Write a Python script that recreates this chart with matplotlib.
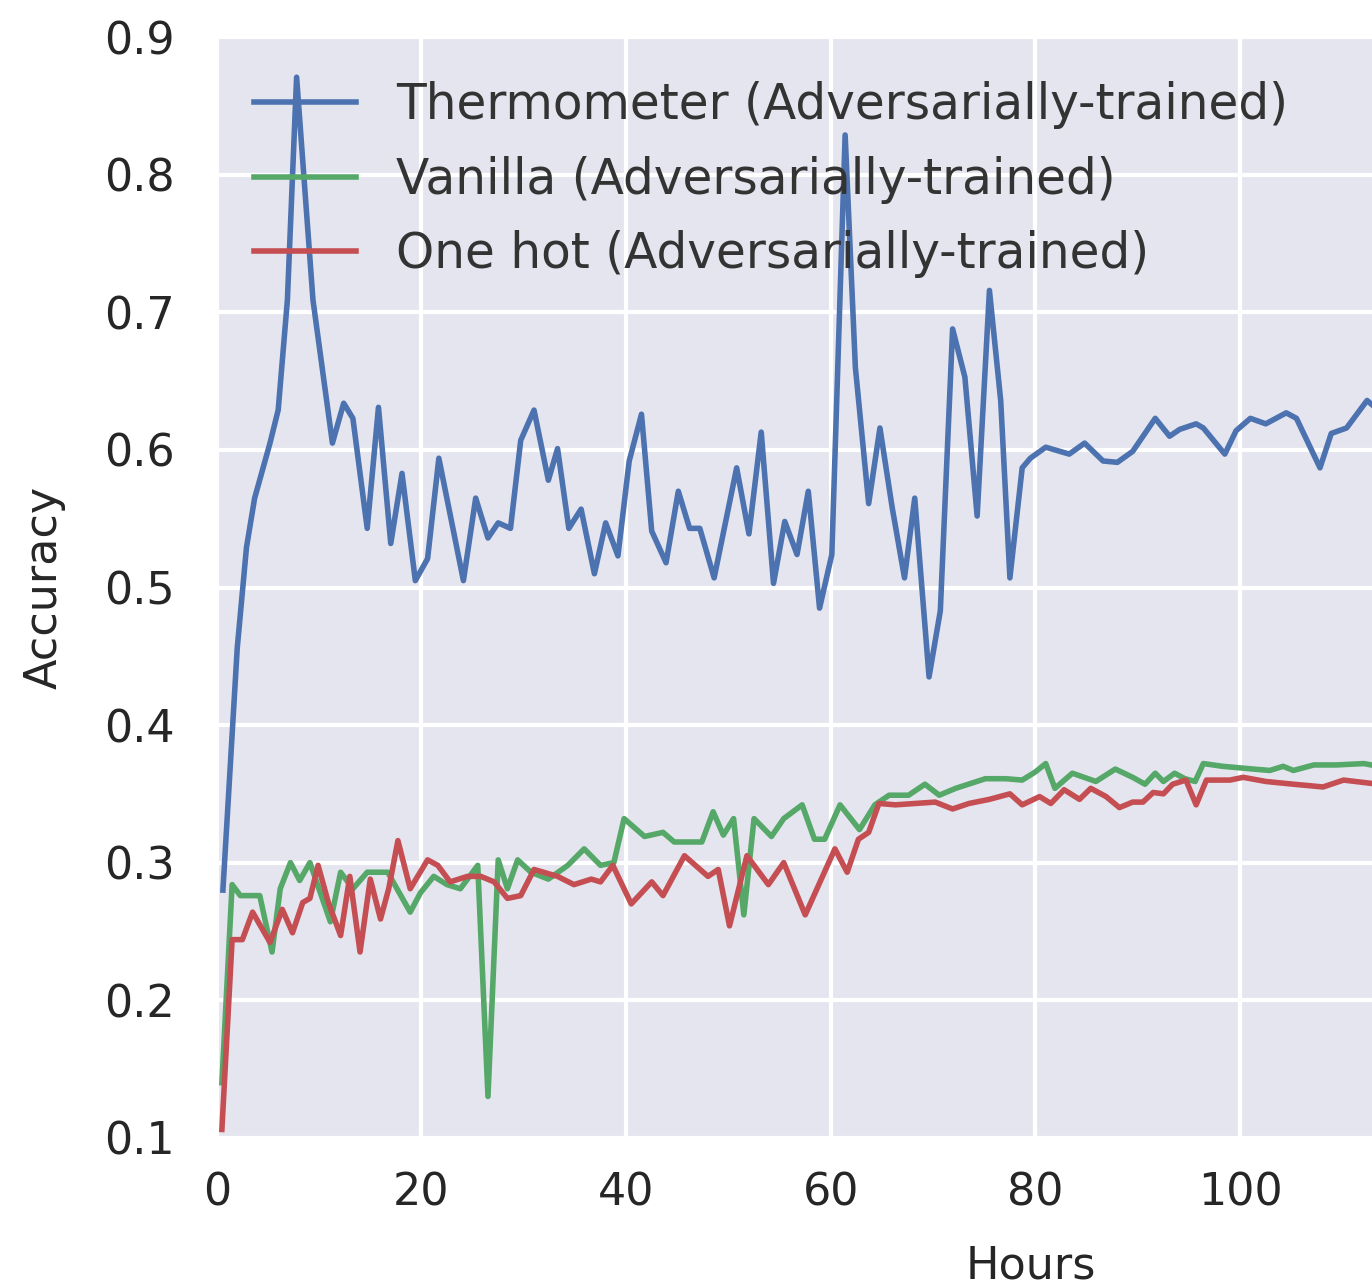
import matplotlib
matplotlib.use("Agg")
import matplotlib.pyplot as plt

# Thermometer (Adversarially-trained)
thermo_hours = [0.6, 2.0, 2.9, 3.7, 5.2, 6.0, 6.9, 7.8, 9.4, 11.3, 12.4, 13.3, 14.7, 15.8,
                17.0, 18.1, 19.4, 20.6, 21.7, 24.1, 25.3, 26.5, 27.5, 28.7, 29.7, 31.0,
                32.4, 33.3, 34.4, 35.6, 36.9, 38.0, 39.2, 40.3, 41.5, 42.5, 43.9, 45.1,
                46.2, 47.2, 48.6, 50.8, 52.0, 53.2, 54.4, 55.5, 56.7, 57.8, 58.9, 60.1,
                61.4, 62.4, 63.7, 64.8, 66.0, 67.2, 68.2, 69.6, 70.7, 71.9, 73.1, 74.3,
                75.5, 76.6, 77.5, 78.7, 79.5, 81.0, 83.3, 84.8, 86.6, 88.0, 89.5, 91.7,
                93.1, 94.1, 95.7, 96.4, 98.5, 99.6, 101.0, 102.5, 104.5, 105.5, 107.8,
                108.9, 110.4, 112.4, 113.5]
thermo_acc = [0.28, 0.456, 0.529, 0.565, 0.605, 0.629, 0.709, 0.871, 0.709, 0.605, 0.634,
              0.623, 0.543, 0.631, 0.532, 0.583, 0.505, 0.521, 0.594, 0.505, 0.565, 0.536,
              0.547, 0.543, 0.607, 0.629, 0.578, 0.601, 0.543, 0.557, 0.510, 0.547, 0.523,
              0.592, 0.626, 0.541, 0.518, 0.570, 0.543, 0.543, 0.507, 0.587, 0.539, 0.613,
              0.503, 0.548, 0.524, 0.570, 0.485, 0.524, 0.829, 0.660, 0.561, 0.616, 0.558,
              0.507, 0.565, 0.435, 0.483, 0.688, 0.653, 0.552, 0.716, 0.636, 0.507, 0.587,
              0.594, 0.602, 0.597, 0.605, 0.592, 0.591, 0.599, 0.623, 0.610, 0.615, 0.619,
              0.616, 0.597, 0.614, 0.623, 0.619, 0.627, 0.623, 0.587, 0.612, 0.616, 0.636,
              0.629]

# Vanilla (Adversarially-trained)
vanilla_hours = [0.5, 1.5, 2.3, 4.2, 5.4, 6.2, 7.2, 8.1, 9.1, 11.1, 12.1, 13.3, 14.7, 16.7,
                 18.9, 19.9, 21.2, 22.5, 23.8, 25.5, 26.5, 27.5, 28.4, 29.4, 30.7, 32.4,
                 34.3, 35.9, 37.5, 38.8, 39.8, 41.8, 43.6, 44.7, 47.4, 48.5, 49.5, 50.5,
                 51.5, 52.5, 54.2, 55.4, 57.2, 58.4, 59.4, 60.9, 62.8, 64.3, 65.7, 67.6,
                 69.2, 70.6, 72.2, 75.1, 77.1, 78.7, 80.0, 81.0, 81.9, 83.6, 85.9, 87.8,
                 89.5, 90.7, 91.7, 92.5, 93.6, 94.6, 95.6, 96.4, 98.3, 101.3, 102.9, 104.2,
                 105.2, 107.2, 109.4, 112.1, 113.5]
vanilla_acc = [0.14, 0.284, 0.276, 0.276, 0.235, 0.281, 0.300, 0.287, 0.300, 0.257, 0.293,
               0.281, 0.293, 0.293, 0.264, 0.278, 0.290, 0.284, 0.281, 0.298, 0.130, 0.302,
               0.281, 0.302, 0.293, 0.288, 0.298, 0.310, 0.298, 0.300, 0.332, 0.319, 0.322,
               0.315, 0.315, 0.337, 0.320, 0.332, 0.262, 0.332, 0.319, 0.332, 0.342, 0.317,
               0.317, 0.342, 0.324, 0.342, 0.349, 0.349, 0.357, 0.349, 0.354, 0.361, 0.361,
               0.360, 0.366, 0.372, 0.354, 0.365, 0.359, 0.368, 0.362, 0.357, 0.365, 0.359,
               0.365, 0.361, 0.359, 0.372, 0.370, 0.368, 0.367, 0.370, 0.367, 0.371, 0.371,
               0.372, 0.370]

# One hot (Adversarially-trained)
onehot_hours = [0.5, 1.5, 2.5, 3.5, 5.2, 6.4, 7.4, 8.4, 9.1, 9.9, 10.9, 12.1, 13.0, 14.0,
                15.0, 16.0, 16.8, 17.7, 18.9, 20.6, 21.6, 22.8, 24.5, 25.8, 27.1, 28.4,
                29.7, 31.0, 33.3, 34.9, 36.6, 37.5, 38.7, 40.5, 42.5, 43.6, 45.7, 48.0,
                49.0, 50.1, 51.8, 53.9, 55.4, 57.5, 60.4, 61.6, 62.7, 63.7, 64.7, 66.3,
                70.2, 71.9, 73.5, 75.5, 77.5, 78.7, 80.4, 81.5, 82.8, 84.3, 85.4, 86.9,
                88.2, 89.5, 90.5, 91.5, 92.5, 93.4, 94.7, 95.7, 96.7, 99.0, 100.3, 102.5,
                105.2, 108.1, 110.1, 113.5]
onehot_acc = [0.106, 0.244, 0.244, 0.264, 0.242, 0.266, 0.249, 0.271, 0.274, 0.298, 0.271,
              0.247, 0.290, 0.235, 0.288, 0.259, 0.281, 0.316, 0.281, 0.302, 0.298, 0.286,
              0.290, 0.290, 0.286, 0.274, 0.276, 0.295, 0.290, 0.284, 0.288, 0.286, 0.298,
              0.270, 0.286, 0.276, 0.305, 0.290, 0.295, 0.254, 0.305, 0.284, 0.300, 0.262,
              0.310, 0.293, 0.317, 0.322, 0.343, 0.342, 0.344, 0.339, 0.343, 0.346, 0.350,
              0.342, 0.348, 0.343, 0.353, 0.346, 0.354, 0.348, 0.340, 0.344, 0.344, 0.351,
              0.350, 0.357, 0.360, 0.342, 0.360, 0.360, 0.362, 0.359, 0.357, 0.355, 0.360,
              0.357]

# gridlines past 100 fall outside the cropped picture, only their lines show
x_ticks = [0, 20, 40, 60, 80, 100, 120, 140]
x_ticklabels = ["0", "20", "40", "60", "80", "100", "", ""]
y_ticks = [0.1, 0.2, 0.3, 0.4, 0.5, 0.6, 0.7, 0.8, 0.9]

fig = plt.figure(figsize=(13.72, 12.87), dpi=100)
# the original picture is cropped on the right, so the axes run past the figure edge
ax = fig.add_axes([0.158, 0.116, 1.186, 0.855])
ax.set_facecolor("#E5E5EF")
for s in ax.spines.values():
    s.set_visible(False)
ax.grid(True, color="white", linewidth=3)
ax.set_axisbelow(True)

ax.plot(thermo_hours, thermo_acc, color="#4C72B0", lw=4,
        label="Thermometer (Adversarially-trained)")
ax.plot(vanilla_hours, vanilla_acc, color="#55A868", lw=4,
        label="Vanilla (Adversarially-trained)")
ax.plot(onehot_hours, onehot_acc, color="#C44E52", lw=4,
        label="One hot (Adversarially-trained)")

ax.set_xlim(0, 159)
ax.set_ylim(0.1, 0.9)
ax.set_xticks(x_ticks)
ax.set_xticklabels(x_ticklabels)
ax.set_yticks(y_ticks)
ax.set_yticklabels(["%.1f" % v for v in y_ticks])
ax.tick_params(axis="both", length=0, labelsize=32, labelcolor="#262626")
ax.tick_params(axis="y", pad=30)
ax.tick_params(axis="x", pad=24)

ax.set_xlabel("Hours", fontsize=32, color="#262626", labelpad=22)
ax.set_ylabel("Accuracy", fontsize=32, color="#262626", labelpad=28)

leg = ax.legend(loc="upper left", bbox_to_anchor=(0.0, 0.994), frameon=False, fontsize=35,
                handlelength=2.1, handletextpad=0.82, labelspacing=0.55, borderaxespad=0.36)
for t in leg.get_texts():
    t.set_color("#333333")

fig.savefig("out.png", dpi=100)
